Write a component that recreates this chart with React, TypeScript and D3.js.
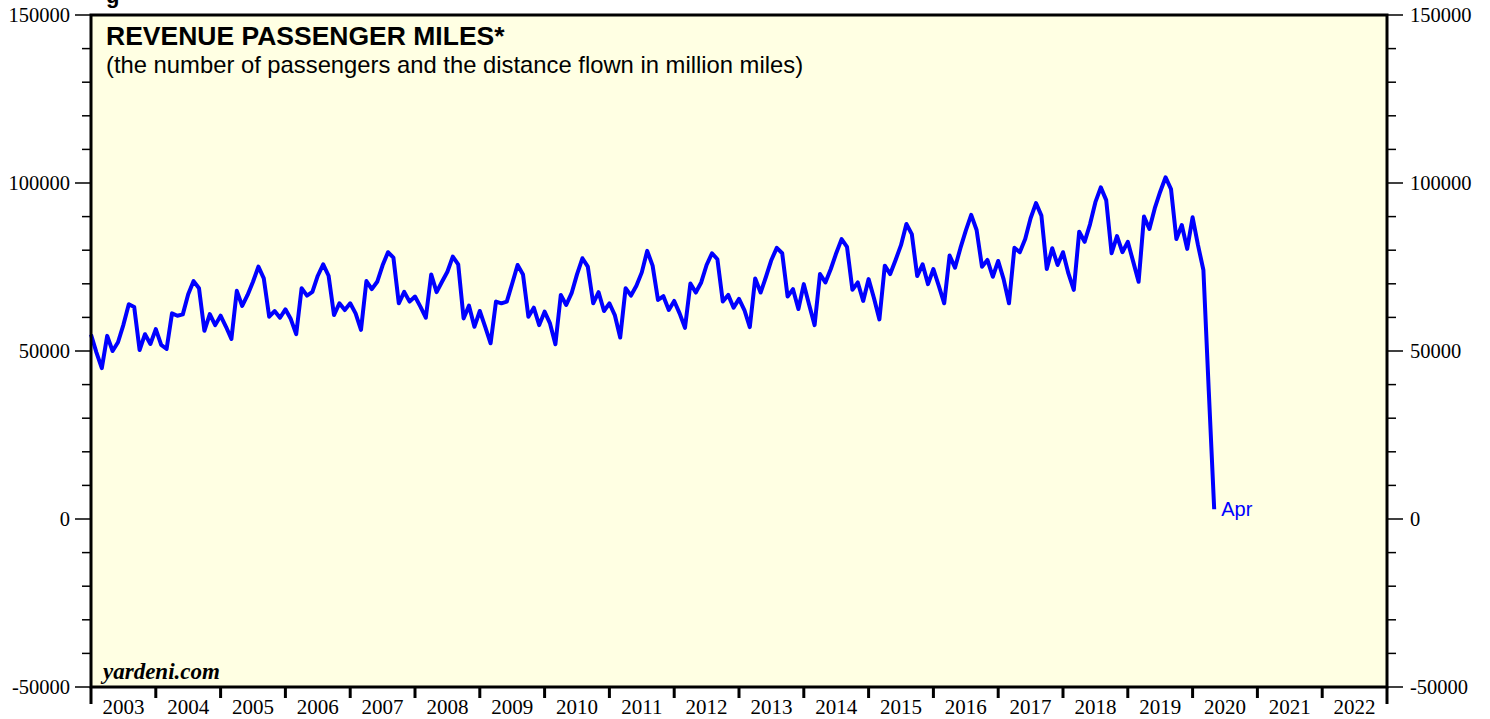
import React, { useEffect, useRef } from "react";
import * as d3 from "d3";

// revenue passenger miles, million miles, monthly (first point = Dec 2002)
const rpmDec2002 = [54900];
const rpm2003 = [49600, 44900, 54500, 50000, 52600, 57800, 63900, 63100, 50300, 55000, 52100, 56500];
const rpm2004 = [51800, 50600, 61200, 60500, 60900, 66900, 70800, 68700, 56000, 61000, 57700, 60500];
const rpm2005 = [57200, 53600, 67900, 63400, 66700, 70600, 75100, 71600, 60200, 61900, 59900, 62400];
const rpm2006 = [59500, 55000, 68700, 66500, 67600, 72400, 75800, 72400, 60700, 64200, 62200, 64200];
const rpm2007 = [61200, 56300, 70800, 68400, 70600, 75500, 79400, 77800, 64200, 67600, 64700, 66200];
const rpm2008 = [63200, 59900, 72800, 67500, 70600, 73600, 78100, 75800, 59700, 63500, 57200, 61900];
const rpm2009 = [57200, 52300, 64700, 64200, 64700, 70100, 75600, 72800, 60200, 62900, 57700, 61700];
const rpm2010 = [58200, 52000, 66700, 63700, 67200, 72800, 77600, 75100, 64200, 67500, 61900, 64200];
const rpm2011 = [60700, 54000, 68700, 66500, 69400, 73400, 79800, 75400, 65200, 66300, 62200, 64900];
const rpm2012 = [61200, 56900, 70100, 67400, 70400, 75600, 79100, 77300, 64700, 66700, 62900, 65500];
const rpm2013 = [62200, 57100, 71600, 67400, 72100, 77100, 80700, 79100, 66200, 68400, 62500, 69900];
const rpm2014 = [63700, 57700, 72900, 70400, 74400, 79100, 83300, 81000, 68200, 70400, 64900, 71400];
const rpm2015 = [65700, 59400, 75400, 72900, 77100, 81500, 87800, 84800, 72300, 75800, 69900, 74400];
const rpm2016 = [69400, 64200, 78400, 74800, 80600, 85800, 90500, 86000, 75100, 77100, 72100, 76800];
const rpm2017 = [71400, 64200, 80700, 79400, 83300, 89500, 94000, 90300, 74400, 80600, 75600, 79400];
const rpm2018 = [73100, 68200, 85500, 82500, 87700, 94300, 98700, 94900, 79100, 84200, 79400, 82500];
const rpm2019 = [76600, 70600, 90000, 86300, 92500, 97400, 101700, 98200, 83300, 87500, 80400, 89800];
const rpm2020 = [81500, 74100, 38000, 2900];

const yearLabels = d3.range(2003, 2023).map(String);
const yMajorTicks = [-50000, 0, 50000, 100000, 150000];
const yMinorTicks = d3.range(-50000, 150001, 10000);

function App() {
    const svgRef = useRef(null);
    const width = 1490;
    const height = 719;
    const left = 91, right = 1387, top = 15, bottom = 687;

    const rpm = [].concat(rpmDec2002, rpm2003, rpm2004, rpm2005, rpm2006, rpm2007, rpm2008,
        rpm2009, rpm2010, rpm2011, rpm2012, rpm2013, rpm2014, rpm2015, rpm2016, rpm2017,
        rpm2018, rpm2019, rpm2020);

    useEffect(() => {
        document.body.style.margin = "0";
        const svg = d3.select(svgRef.current);
        svg.selectAll("*").remove();

        const x = d3.scaleLinear().domain([2003, 2023]).range([left, right]);
        const y = d3.scaleLinear().domain([-50000, 150000]).range([bottom, top]);
        const serif = "'Liberation Serif', 'Times New Roman', serif";
        const sans = "'Liberation Sans', Arial, sans-serif";

        // plot background
        svg.append("rect")
            .attr("x", left).attr("y", top)
            .attr("width", right - left).attr("height", bottom - top)
            .attr("fill", "#ffffe3");

        // y ticks, both sides
        const isMajor = (v) => yMajorTicks.includes(v);
        svg.selectAll("line.ytl")
            .data(yMinorTicks)
            .join("line")
            .attr("x1", (v) => left - (isMajor(v) ? 16 : 9)).attr("x2", left)
            .attr("y1", (v) => y(v)).attr("y2", (v) => y(v))
            .attr("stroke", "#000").attr("stroke-width", 1.5);
        svg.selectAll("line.ytr")
            .data(yMinorTicks)
            .join("line")
            .attr("x1", right).attr("x2", (v) => right + (isMajor(v) ? 16 : 9))
            .attr("y1", (v) => y(v)).attr("y2", (v) => y(v))
            .attr("stroke", "#000").attr("stroke-width", 1.5);

        svg.selectAll("text.yl")
            .data(yMajorTicks)
            .join("text")
            .attr("x", 70).attr("y", (v) => y(v) + 7)
            .attr("text-anchor", "end")
            .attr("font-family", serif).attr("font-size", 20.5)
            .text((v) => String(v));
        svg.selectAll("text.yr")
            .data(yMajorTicks)
            .join("text")
            .attr("x", 1410).attr("y", (v) => y(v) + 7)
            .attr("text-anchor", "start")
            .attr("font-family", serif).attr("font-size", 20.5)
            .text((v) => String(v));

        // x ticks at year boundaries, labels centred between
        const edges = d3.range(2003, 2024);
        svg.selectAll("line.xt")
            .data(edges)
            .join("line")
            .attr("x1", (v) => x(v)).attr("x2", (v) => x(v))
            .attr("y1", bottom)
            .attr("y2", (v) => (v === 2003 || v === 2023) ? bottom + 17 : bottom + 11)
            .attr("stroke", "#000").attr("stroke-width", 3);
        svg.selectAll("text.xl")
            .data(yearLabels)
            .join("text")
            .attr("x", (d) => x(+d + 0.5)).attr("y", 714)
            .attr("text-anchor", "middle")
            .attr("font-family", serif).attr("font-size", 21)
            .text((d) => d);

        // the series
        const line = d3.line()
            .x((d, i) => x(2003 + i / 12))
            .y((d) => y(d));
        svg.append("path")
            .attr("d", line(rpm))
            .attr("fill", "none")
            .attr("stroke", "#0000ff")
            .attr("stroke-width", 4)
            .attr("stroke-linejoin", "round");

        const last = rpm.length - 1;
        svg.append("text")
            .attr("x", x(2003 + last / 12) + 7).attr("y", y(rpm[last]) + 7)
            .attr("font-family", sans).attr("font-size", 20)
            .attr("fill", "#0000ff")
            .text("Apr");

        // frame
        svg.append("rect")
            .attr("x", left).attr("y", top)
            .attr("width", right - left).attr("height", bottom - top)
            .attr("fill", "none")
            .attr("stroke", "#000").attr("stroke-width", 3);

        // titles
        svg.append("text")
            .attr("x", 106).attr("y", 45)
            .attr("font-family", sans).attr("font-size", 26.5).attr("font-weight", "bold")
            .text("REVENUE PASSENGER MILES*");
        svg.append("text")
            .attr("x", 106).attr("y", 73)
            .attr("font-family", sans).attr("font-size", 23.8)
            .text("(the number of passengers and the distance flown in million miles)");
        svg.append("text")
            .attr("x", 106).attr("y", 3)
            .attr("font-family", sans).attr("font-size", 22).attr("font-weight", "bold")
            .text("g");

        svg.append("text")
            .attr("x", 103).attr("y", 679)
            .attr("font-family", serif).attr("font-size", 23)
            .attr("font-weight", "bold").attr("font-style", "italic")
            .text("yardeni.com");
    }, []);

    return (
        <svg ref={svgRef} width={width} height={height} style={{ display: "block" }}></svg>
    );
}

export default App;
